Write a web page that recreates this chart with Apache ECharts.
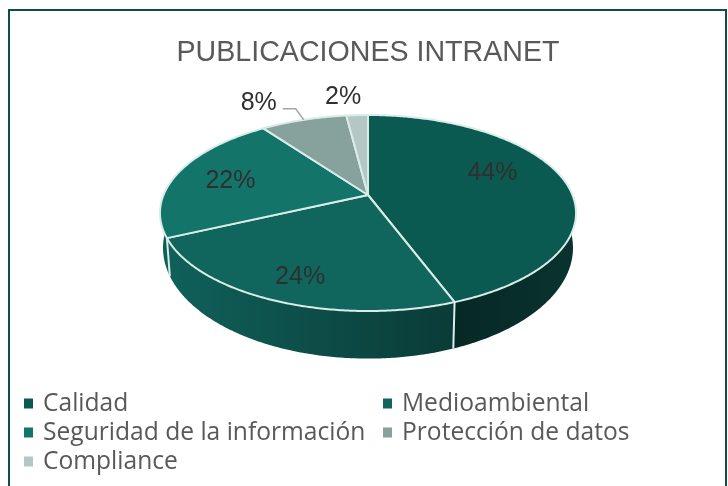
<!DOCTYPE html>
<html lang="es">
<head>
  <meta charset="UTF-8">
  <title>Publicaciones intranet</title>
  <script src="https://cdn.jsdelivr.net/npm/echarts@6/dist/echarts.min.js"></script>
  <style>
    html, body {
      margin: 0;
      background: #fff;
    }

    #chart-main {
      width: 728px;
      height: 486px;
    }
  </style>
</head>
<body>
<div id="chart-main"></div>

<script type="text/javascript">
  const categories = ['Calidad', 'Medioambiental', 'Seguridad de la información', 'Protección de datos', 'Compliance']
  // read from the slice edges, the labels show them rounded
  const values = [44.3, 23.8, 21.9, 8, 2]
  const titleText = 'PUBLICACIONES INTRANET'

  const topColors = ['#0b5a52', '#10665d', '#13746a', '#87a29d', '#b5c7c4']
  const wallColors = [
    ['#03211e', '#0a332f'],
    ['#10605a', '#0a3b37'],
    ['#0d5f57', '#10685f'],
    ['#5f7a75', '#5f7a75'],
    ['#85a09b', '#85a09b']
  ]

  // the pie is a circle seen in perspective, so both faces go through a projection
  const topFace = {cx: 368, cy: 195, a: 204.5, b: 94.7, p: 0.1837}
  const bottomFace = {cx: 368, cy: 227.5, a: 201.5, b: 107, p: 0.1837}
  const edgeColor = '#d9ece9'

  // where each percentage sits: fraction of the radius, then a nudge in pixels
  const labelRadius = [0.6, 0.6, 0.6, 1, 1]
  const labelNudge = [[6, -12], [-16, 24], [-22, 0], [-45, -17], [-14, -18]]

  const total = values.reduce((sum, v) => sum + v, 0)
  let running = 0
  const slices = values.map(function (v) {
    const from = running / total * Math.PI * 2
    running += v
    return {from: from, to: running / total * Math.PI * 2}
  })

  function project (face, angle, radius) {
    const u = Math.sin(angle) * radius
    const v = -Math.cos(angle) * radius
    const w = 1 - face.p * v
    return [face.cx + face.a * u / w, face.cy + face.b * v / w]
  }

  function arc (face, from, to) {
    const steps = Math.max(2, Math.ceil((to - from) / 0.01))
    const points = []
    for (let i = 0; i <= steps; i++) {
      points.push(project(face, from + (to - from) * i / steps, 1))
    }
    return points
  }

  function renderTop (index) {
    const s = slices[index]
    return {
      type: 'polygon',
      shape: {points: [project(topFace, 0, 0)].concat(arc(topFace, s.from, s.to))},
      style: {fill: topColors[index], stroke: edgeColor, lineWidth: 2, lineJoin: 'round'}
    }
  }

  function renderWall (index) {
    const s = slices[index]
    const upper = arc(topFace, s.from, s.to)
    const lower = arc(bottomFace, s.from, s.to)
    return {
      type: 'group',
      children: [
        {
          type: 'polygon',
          shape: {points: upper.concat(lower.slice().reverse())},
          style: {
            fill: {
              type: 'linear',
              x: 0,
              y: 0,
              x2: 1,
              y2: 0,
              colorStops: [
                {offset: 0, color: wallColors[index][0]},
                {offset: 1, color: wallColors[index][1]}
              ]
            }
          }
        },
        {
          type: 'polyline',
          shape: {points: [upper[0], lower[0]]},
          style: {stroke: edgeColor, lineWidth: 2, fill: null}
        }
      ]
    }
  }

  function renderLabel (index) {
    const s = slices[index]
    const mid = (s.from + s.to) / 2
    const spot = project(topFace, mid, labelRadius[index])
    const children = [{
      type: 'text',
      style: {
        x: spot[0] + labelNudge[index][0],
        y: spot[1] + labelNudge[index][1],
        text: Math.round(values[index]) + '%',
        font: '25px "Liberation Sans"',
        fill: '#2f2f2f',
        align: 'center',
        verticalAlign: 'middle'
      }
    }]
    // only the 8% label has a leader line
    if (index === 3) {
      const edge = project(topFace, mid, 1)
      children.push({
        type: 'polyline',
        shape: {points: [edge, [edge[0] - 8, edge[1] - 11], [edge[0] - 21, edge[1] - 11]]},
        style: {stroke: '#a6a6a6', lineWidth: 1.5, fill: null}
      })
    }
    return {type: 'group', children: children}
  }

  function customSeries (name, index, z, render) {
    return {
      type: 'custom',
      name: name,
      coordinateSystem: 'none',
      silent: true,
      animation: false,
      z: z,
      itemStyle: {color: topColors[index]},
      data: [values[index]],
      renderItem: function () {
        return render(index)
      }
    }
  }

  const legendSpots = [[24, 391], [383, 391], [24, 420], [383, 420], [24, 449]]

  let echartItem = echarts.init(document.getElementById('chart-main'), null, {renderer: 'canvas'})

  let option = {
    backgroundColor: '#fff',
    title: {
      text: titleText,
      left: 363,
      top: 34,
      textAlign: 'center',
      textStyle: {
        fontFamily: 'Liberation Sans',
        fontSize: 28.6,
        fontWeight: 'normal',
        color: '#595959'
      }
    },
    graphic: [{
      type: 'rect',
      silent: true,
      shape: {x: 9, y: 10, width: 717, height: 490},
      style: {fill: 'none', stroke: '#0d4f48', lineWidth: 2}
    }],
    legend: categories.map(function (name, i) {
      return {
        data: [name],
        left: legendSpots[i][0],
        top: legendSpots[i][1],
        padding: 0,
        icon: 'rect',
        itemWidth: 9,
        itemHeight: 10,
        itemGap: 0,
        selectedMode: false,
        textStyle: {
          fontFamily: 'Open Sans',
          fontSize: 24.6,
          color: '#595959',
          padding: [0, 0, 0, 5]
        }
      }
    }),
    series: categories.map((name, i) => customSeries(name, i, 3, renderTop))
      .concat(categories.map((name, i) => customSeries(name + ' lateral', i, 2, renderWall)))
      .concat(categories.map((name, i) => customSeries(name + ' etiqueta', i, 4, renderLabel)))
  }

  echartItem.setOption(option)
</script>
</body>
</html>
